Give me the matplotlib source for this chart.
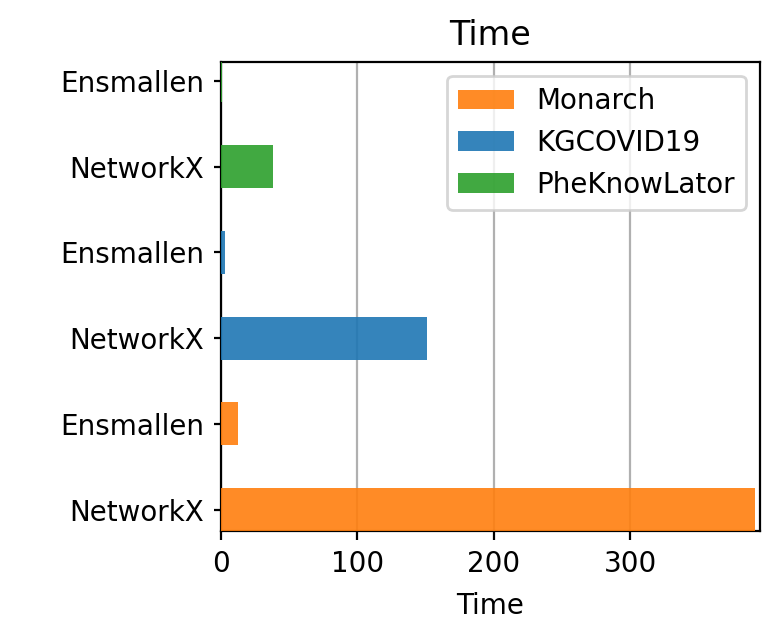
import matplotlib
matplotlib.use("Agg")
import matplotlib.pyplot as plt
import numpy as np

labels = ["NetworkX", "Ensmallen", "NetworkX", "Ensmallen", "NetworkX", "Ensmallen"]
graphs = ["Monarch", "KGCOVID19", "PheKnowLator"]
networkx_times = [391.5, 150.7, 38.0]
ensmallen_times = [12.2, 2.7, 0.3]
colors = ["#ff7f0e", "#1f77b4", "#2ca02c"]

fig = plt.figure(figsize=(3.9, 3.195), dpi=200)
ax = fig.add_axes([0.2835, 0.169, 0.6905, 0.734])

for i, g in enumerate(graphs):
    pos = [2 * i, 2 * i + 1]
    ax.barh(pos, [networkx_times[i], ensmallen_times[i]], height=0.5,
            color=colors[i], alpha=0.9, label=g, zorder=3)

ax.set_yticks(range(len(labels)))
ax.set_yticklabels(labels)
ax.set_ylim(-0.25, 5.22)
ax.set_xlim(0, 395)
ax.tick_params(axis="y", length=2.6)
ax.tick_params(axis="x", length=3.2)
ax.grid(axis="x", zorder=0)
ax.set_axisbelow(True)
ax.set_title("Time")
ax.set_xlabel("Time", labelpad=5)
ax.legend(loc="upper right")
fig.savefig("out.png", dpi=200)
